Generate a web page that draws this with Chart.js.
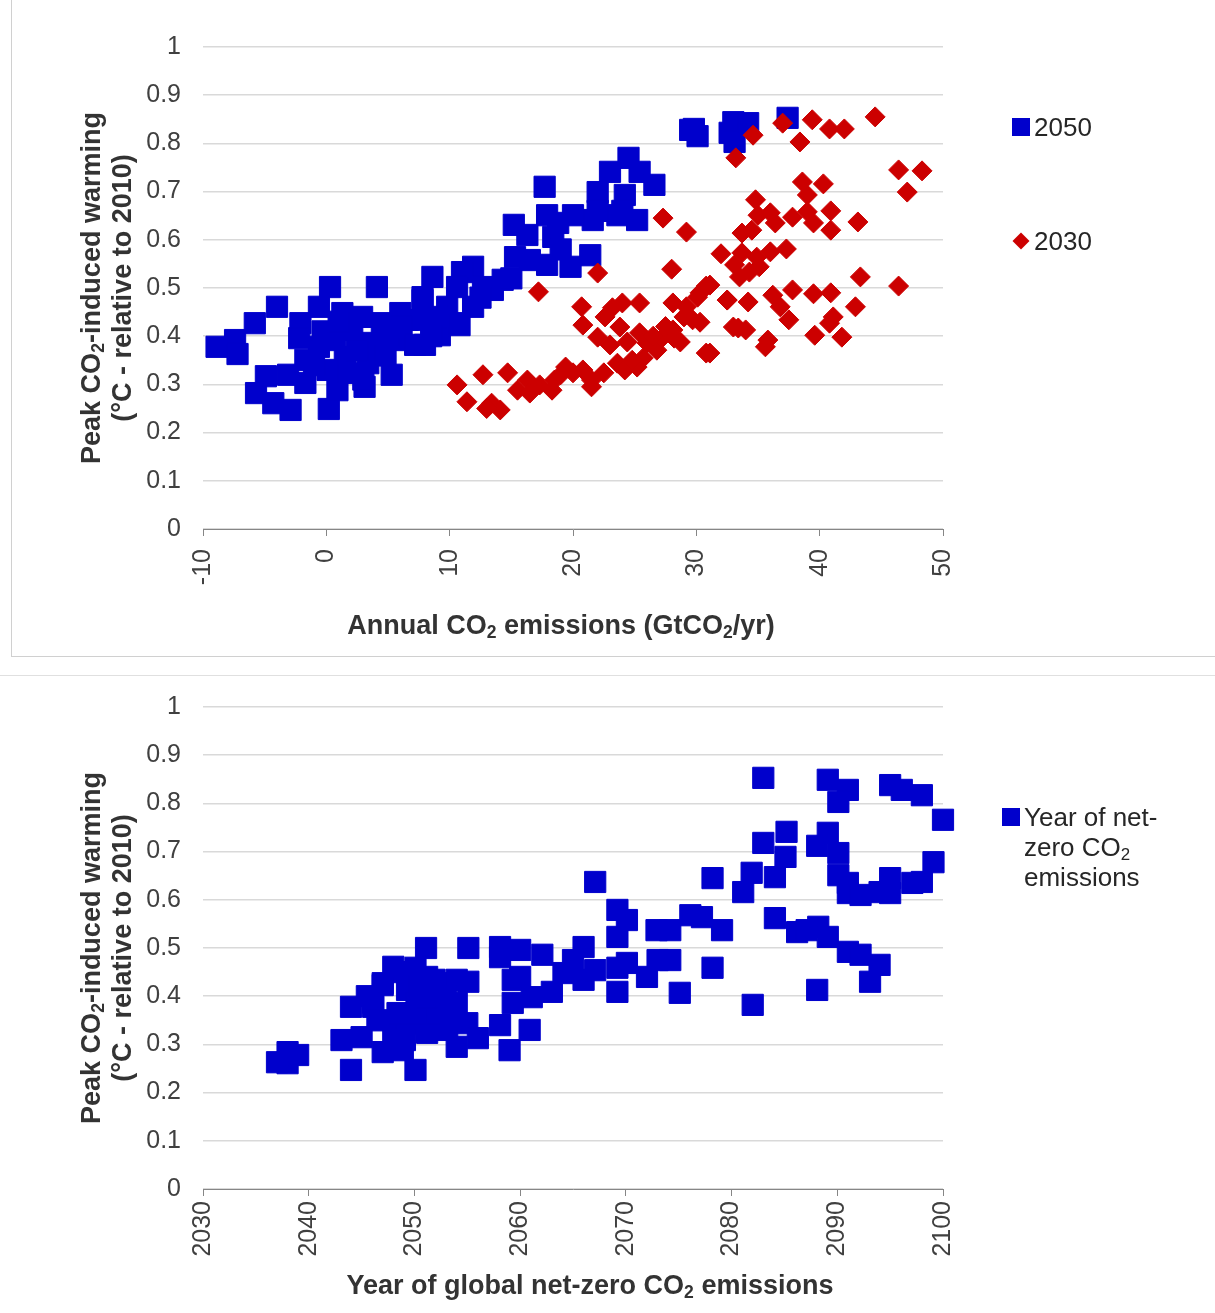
<!DOCTYPE html>
<html>
<head>
<meta charset="utf-8">
<script src="https://cdn.jsdelivr.net/npm/chart.js@4.4.0/dist/chart.umd.min.js"></script>
<style>
  body { margin: 0; background: #fff; font-family: "Liberation Sans", Arial, sans-serif; color: #404040; }
  #page { position: relative; width: 1215px; height: 1313px; overflow: hidden; }
  .box { position: absolute; left: 0; width: 1215px; }
  .frame { position: absolute; left: 11px; top: 0; width: 1204px; height: 657px; border-left: 1px solid #d0d0d0; border-bottom: 1px solid #d0d0d0; box-sizing: border-box; }
  .sep { position: absolute; left: 0; top: 675px; width: 1215px; height: 1px; background: #e0e0e0; }
  .ytitle { position: absolute; width: 440px; text-align: center; font-weight: bold; font-size: 27px; line-height: 31px; color: #333; transform: translate(-50%, -50%) rotate(-90deg); white-space: nowrap; }
  .xtitle { position: absolute; width: 720px; text-align: center; font-weight: bold; font-size: 27px; color: #333; transform: translate(-50%, -50%); white-space: nowrap; }
  sub { font-size: 0.65em; vertical-align: -0.25em; line-height: 0; }
  .leg { position: absolute; font-size: 26px; line-height: 30px; color: #262626; white-space: nowrap; }
  .sq { position: absolute; width: 18px; height: 18px; background: #0000cc; }
  .dia { position: absolute; width: 12px; height: 12px; background: #cc0000; transform: rotate(45deg); }
</style>
</head>
<body>
<div id="page">
  <div class="frame"></div>
  <div class="sep"></div>
  <div class="box" style="top:0;height:660px;"><canvas id="top"></canvas></div>
  <div class="box" style="top:660px;height:653px;"><canvas id="bottom"></canvas></div>

  <div class="ytitle" style="left:107px;top:288px;">Peak CO<sub>2</sub>-induced warming<br>(°C - relative to 2010)</div>
  <div class="xtitle" style="left:561px;top:625px;">Annual CO<sub>2</sub> emissions (GtCO<sub>2</sub>/yr)</div>
  <div class="ytitle" style="left:107px;top:948px;">Peak CO<sub>2</sub>-induced warming<br>(°C - relative to 2010)</div>
  <div class="xtitle" style="left:590px;top:1285px;">Year of global net-zero CO<sub>2</sub> emissions</div>

  <div class="sq" style="left:1012px;top:118px;"></div>
  <div class="leg" style="left:1034px;top:112px;">2050</div>
  <div class="dia" style="left:1015px;top:235px;"></div>
  <div class="leg" style="left:1034px;top:226px;">2030</div>

  <div class="sq" style="left:1002px;top:808px;"></div>
  <div class="leg" style="left:1024px;top:802px;">Year of net-<br>zero CO<sub>2</sub><br>emissions</div>
</div>
<script>
// top panel: annual emissions vs peak warming
const emis2050 = [-8.9, -7.4, -7.2, -5.8, -4.0, -4.9, -5.7, -4.3, -2.9, 0.2, -2.1, -2.2, -0.6, 0.3, 4.1, -1.7, -3.1, 1.3, 2.9, 4.5,
  6.0, 6.6, 5.3, 3.1, 0.9, -1.7, -0.6, 0.7, 1.5, 3.7, 3.4, 1.8, 0.1, 2.1, -1.0, 2.5, 4.8, -0.3, 1.0, 3.0, 5.0,
  24.5, 23.0, 25.4, 26.6, 22.0, 24.2, 17.7, 23.6, 25.2, 21.6, 20.0, 17.9, 18.8, 15.2, 16.3, 18.4, 21.4, 19.8, 17.9, 15.3,
  16.5, 11.9, 11.0, 8.6, 14.3, 13.5, 12.7, 10.6, 7.8, 6.0, 9.8, 11.9, 7.6, 10.3,
  7.8, 6.1, 8.0, 7.2, 9.2, 10.8, 9.0, 12.5, 15.0, 8.5, 19.0, 22.0, 24.0,
  29.5, 30.1, 33.0, 32.7, 33.1, 34.2, 37.4, 29.8];
const warm2050 = [0.378, 0.392, 0.363, 0.427, 0.461, 0.317, 0.282, 0.261, 0.247, 0.249, 0.427, 0.396, 0.461, 0.502, 0.502, 0.351, 0.32, 0.448, 0.44, 0.427,
  0.392, 0.434, 0.32, 0.295, 0.288, 0.303, 0.378, 0.392, 0.357, 0.386, 0.344, 0.324, 0.33, 0.413, 0.34, 0.37, 0.36, 0.41, 0.43, 0.31, 0.40,
  0.77, 0.741, 0.741, 0.714, 0.699, 0.693, 0.71, 0.651, 0.641, 0.641, 0.651, 0.651, 0.635, 0.631, 0.61, 0.606, 0.568, 0.544, 0.548, 0.564,
  0.558, 0.544, 0.533, 0.523, 0.517, 0.496, 0.502, 0.502, 0.481, 0.448, 0.461, 0.461, 0.434, 0.427,
  0.475, 0.419, 0.382, 0.382, 0.402, 0.423, 0.44, 0.48, 0.52, 0.40, 0.58, 0.66, 0.66,
  0.828, 0.815, 0.844, 0.822, 0.803, 0.842, 0.853, 0.83];

const emis2030 = [10.6, 11.4, 12.7, 13.4, 14.1, 14.7, 15.5, 16.3, 16.5, 17.3, 18.3, 18.5, 19.4, 20.0, 20.8, 21.5, 21.5, 22.5, 23.6, 24.2,
  25.2, 25.7, 26.0, 26.8, 27.2, 28.1, 28.7, 28.1, 29.2, 29.7, 30.3, 31.1, 30.3, 31.1, 32.5, 33.0, 17.2, 20.7, 20.8, 22.0,
  22.6, 23.2, 24.0, 25.4, 23.8, 23.0, 24.4, 25.4, 22.0, 26.5, 27.5, 29.0, 24.8, 19.0, 13.0,
  34.6, 33.2, 37.0, 39.4, 38.4, 40.8, 42.0, 44.5, 46.4, 48.3, 47.1, 38.6, 40.3, 39.0, 34.8, 35.0, 36.0, 36.4, 37.8, 39.0,
  39.5, 40.9, 40.9, 43.1, 29.2, 27.3, 33.7, 34.5, 32.0, 33.1, 33.7, 34.3, 34.9, 35.1, 36.0, 37.3, 33.5, 28.0, 43.3, 46.4,
  30.8, 30.1, 32.5, 34.2, 36.2, 37.8, 39.5, 40.9, 36.8, 37.5, 42.9, 41.1, 40.8, 41.8, 39.6, 33.4, 34.0, 35.8, 35.6, 30.8, 28.2];
const warm2030 = [0.299, 0.264, 0.32, 0.261, 0.247, 0.324, 0.288, 0.309, 0.282, 0.299, 0.288, 0.309, 0.336, 0.324, 0.33, 0.309, 0.295, 0.324, 0.344, 0.33,
  0.336, 0.355, 0.386, 0.371, 0.396, 0.413, 0.388, 0.469, 0.461, 0.434, 0.429, 0.365, 0.49, 0.506, 0.475, 0.419, 0.492, 0.461, 0.423, 0.398,
  0.44, 0.459, 0.469, 0.469, 0.419, 0.382, 0.388, 0.407, 0.531, 0.40, 0.42, 0.44, 0.35, 0.32, 0.25,
  0.817, 0.77, 0.842, 0.849, 0.803, 0.83, 0.83, 0.855, 0.745, 0.743, 0.699, 0.72, 0.716, 0.693, 0.683, 0.651, 0.656, 0.635, 0.647, 0.658,
  0.635, 0.66, 0.62, 0.637, 0.616, 0.645, 0.614, 0.62, 0.571, 0.548, 0.573, 0.533, 0.564, 0.544, 0.575, 0.581, 0.523, 0.539, 0.523, 0.504,
  0.504, 0.481, 0.475, 0.471, 0.485, 0.496, 0.488, 0.49, 0.461, 0.434, 0.461, 0.44, 0.427, 0.398, 0.402, 0.417, 0.413, 0.392, 0.378, 0.365, 0.396];

// bottom panel: year of net-zero vs peak warming
const netZeroYear = [2037.0, 2038.0, 2038.0, 2039.0, 2043.1, 2044.0, 2044.0, 2045.0, 2046.1, 2047.0, 2048.0, 2047.0, 2048.0, 2048.9, 2050.1,
  2051.1, 2055.1, 2050.1, 2051.2, 2049.3, 2050.2, 2052.1, 2054.0, 2055.1, 2054.0, 2055.0, 2054.0, 2056.0, 2051.2, 2052.4,
  2049.3, 2048.4, 2058.1, 2058.1, 2058.1, 2059.0, 2059.3, 2059.3,
  2047.0, 2046.1, 2049.1, 2051.2, 2053.1, 2052.1, 2050.1, 2051.2, 2051.9, 2053.0, 2049.0, 2046.5, 2045.5, 2053.5, 2050.5,
  2067.1, 2069.2, 2070.1, 2069.2, 2060.0, 2062.1, 2060.0, 2061.1, 2063.0, 2064.1, 2065.0, 2066.0, 2066.0, 2067.1, 2069.2,
  2070.1, 2069.2, 2072.0, 2073.0, 2074.2, 2075.1, 2072.9, 2074.2, 2076.1, 2077.2, 2079.1, 2078.2, 2078.2, 2060.9, 2082.0,
  2081.1, 2081.9,
  2083.0, 2089.1, 2091.0, 2090.1, 2095.0, 2096.1, 2098.0, 2100.0, 2085.2, 2083.0, 2085.1, 2084.1, 2089.1, 2088.1, 2090.1,
  2090.1, 2091.0, 2091.0, 2092.2, 2094.0, 2095.0, 2095.0, 2097.1, 2098.0, 2099.1, 2084.1, 2086.2, 2087.1, 2088.2, 2089.1,
  2091.0, 2092.2, 2094.0, 2093.1, 2088.1];
const netZeroWarm = [0.263, 0.284, 0.261, 0.278, 0.309, 0.247, 0.378, 0.315, 0.378, 0.423, 0.461, 0.284, 0.324, 0.288, 0.247,
  0.5, 0.5, 0.459, 0.44, 0.413, 0.386, 0.427, 0.434, 0.43, 0.386, 0.344, 0.295, 0.313, 0.33, 0.351,
  0.344, 0.365, 0.502, 0.481, 0.34, 0.288, 0.434, 0.386,
  0.427, 0.386, 0.309, 0.324, 0.33, 0.365, 0.365, 0.398, 0.434, 0.40, 0.45, 0.35, 0.40, 0.36, 0.42,
  0.637, 0.579, 0.558, 0.523, 0.496, 0.486, 0.44, 0.398, 0.409, 0.448, 0.475, 0.502, 0.434, 0.454, 0.409,
  0.469, 0.459, 0.44, 0.475, 0.475, 0.407, 0.537, 0.537, 0.568, 0.564, 0.537, 0.645, 0.459, 0.33, 0.382,
  0.616, 0.656,
  0.853, 0.849, 0.828, 0.803, 0.838, 0.828, 0.817, 0.766, 0.741, 0.718, 0.689, 0.647, 0.739, 0.712, 0.697,
  0.651, 0.635, 0.614, 0.61, 0.616, 0.645, 0.614, 0.635, 0.637, 0.678, 0.562, 0.533, 0.537, 0.544, 0.523,
  0.492, 0.486, 0.465, 0.43, 0.413];

const yTicks = [0, 0.1, 0.2, 0.3, 0.4, 0.5, 0.6, 0.7, 0.8, 0.9, 1];

const blue = '#0000cc';
const red = '#cc0000';
const txt = '#404040';
const tickFont = { family: '"Liberation Sans", Arial, sans-serif', size: 25 };

function pts(xs, ys) {
  return xs.map((x, i) => ({ x: x, y: ys[i] }));
}

function makeChart(id, datasets, xMin, xMax, xHeight, padTop, xPad) {
  return new Chart(document.getElementById(id), {
    type: 'scatter',
    data: { datasets: datasets },
    options: {
      responsive: true,
      maintainAspectRatio: false,
      animation: false,
      events: [],
      layout: { padding: { top: padTop, right: 272, bottom: 0, left: 0 } },
      plugins: { legend: { display: false }, tooltip: { enabled: false } },
      scales: {
        x: {
          type: 'linear',
          min: xMin,
          max: xMax,
          afterFit: (s) => { s.height = xHeight; },
          grid: { display: true, drawOnChartArea: false, drawTicks: true, tickLength: 7, color: '#868686' },
          border: { display: true, color: '#868686', width: 1 },
          ticks: {
            stepSize: 10,
            minRotation: 90,
            maxRotation: 90,
            padding: xPad,
            color: txt,
            font: tickFont,
            callback: (v) => String(v)
          }
        },
        y: {
          min: 0,
          max: 1,
          afterFit: (s) => { s.width = 203; },
          afterBuildTicks: (s) => { s.ticks = yTicks.map(v => ({ value: v })); },
          grid: { color: '#d9d9d9', lineWidth: 1.5, drawTicks: false },
          border: { display: false },
          ticks: {
            padding: 22,
            color: txt,
            font: tickFont,
            callback: (v) => String(+v.toFixed(1))
          }
        }
      }
    }
  });
}

makeChart('top', [
  {
    label: '2050',
    data: pts(emis2050, warm2050),
    pointStyle: 'rect',
    pointRadius: 15,
    backgroundColor: blue,
    borderColor: blue,
    borderWidth: 1,
    order: 2,
    clip: false
  },
  {
    label: '2030',
    data: pts(emis2030, warm2030),
    pointStyle: 'rectRot',
    pointRadius: 10,
    backgroundColor: red,
    borderColor: red,
    borderWidth: 1,
    order: 1,
    clip: false
  }
], -10, 50, 131, 47, 13);

makeChart('bottom', [
  {
    label: 'Year of net-zero CO2 emissions',
    data: pts(netZeroYear, netZeroWarm),
    pointStyle: 'rect',
    pointRadius: 15,
    backgroundColor: blue,
    borderColor: blue,
    borderWidth: 1,
    clip: false
  }
], 2030, 2100, 124, 47, 5);
</script>
</body>
</html>
